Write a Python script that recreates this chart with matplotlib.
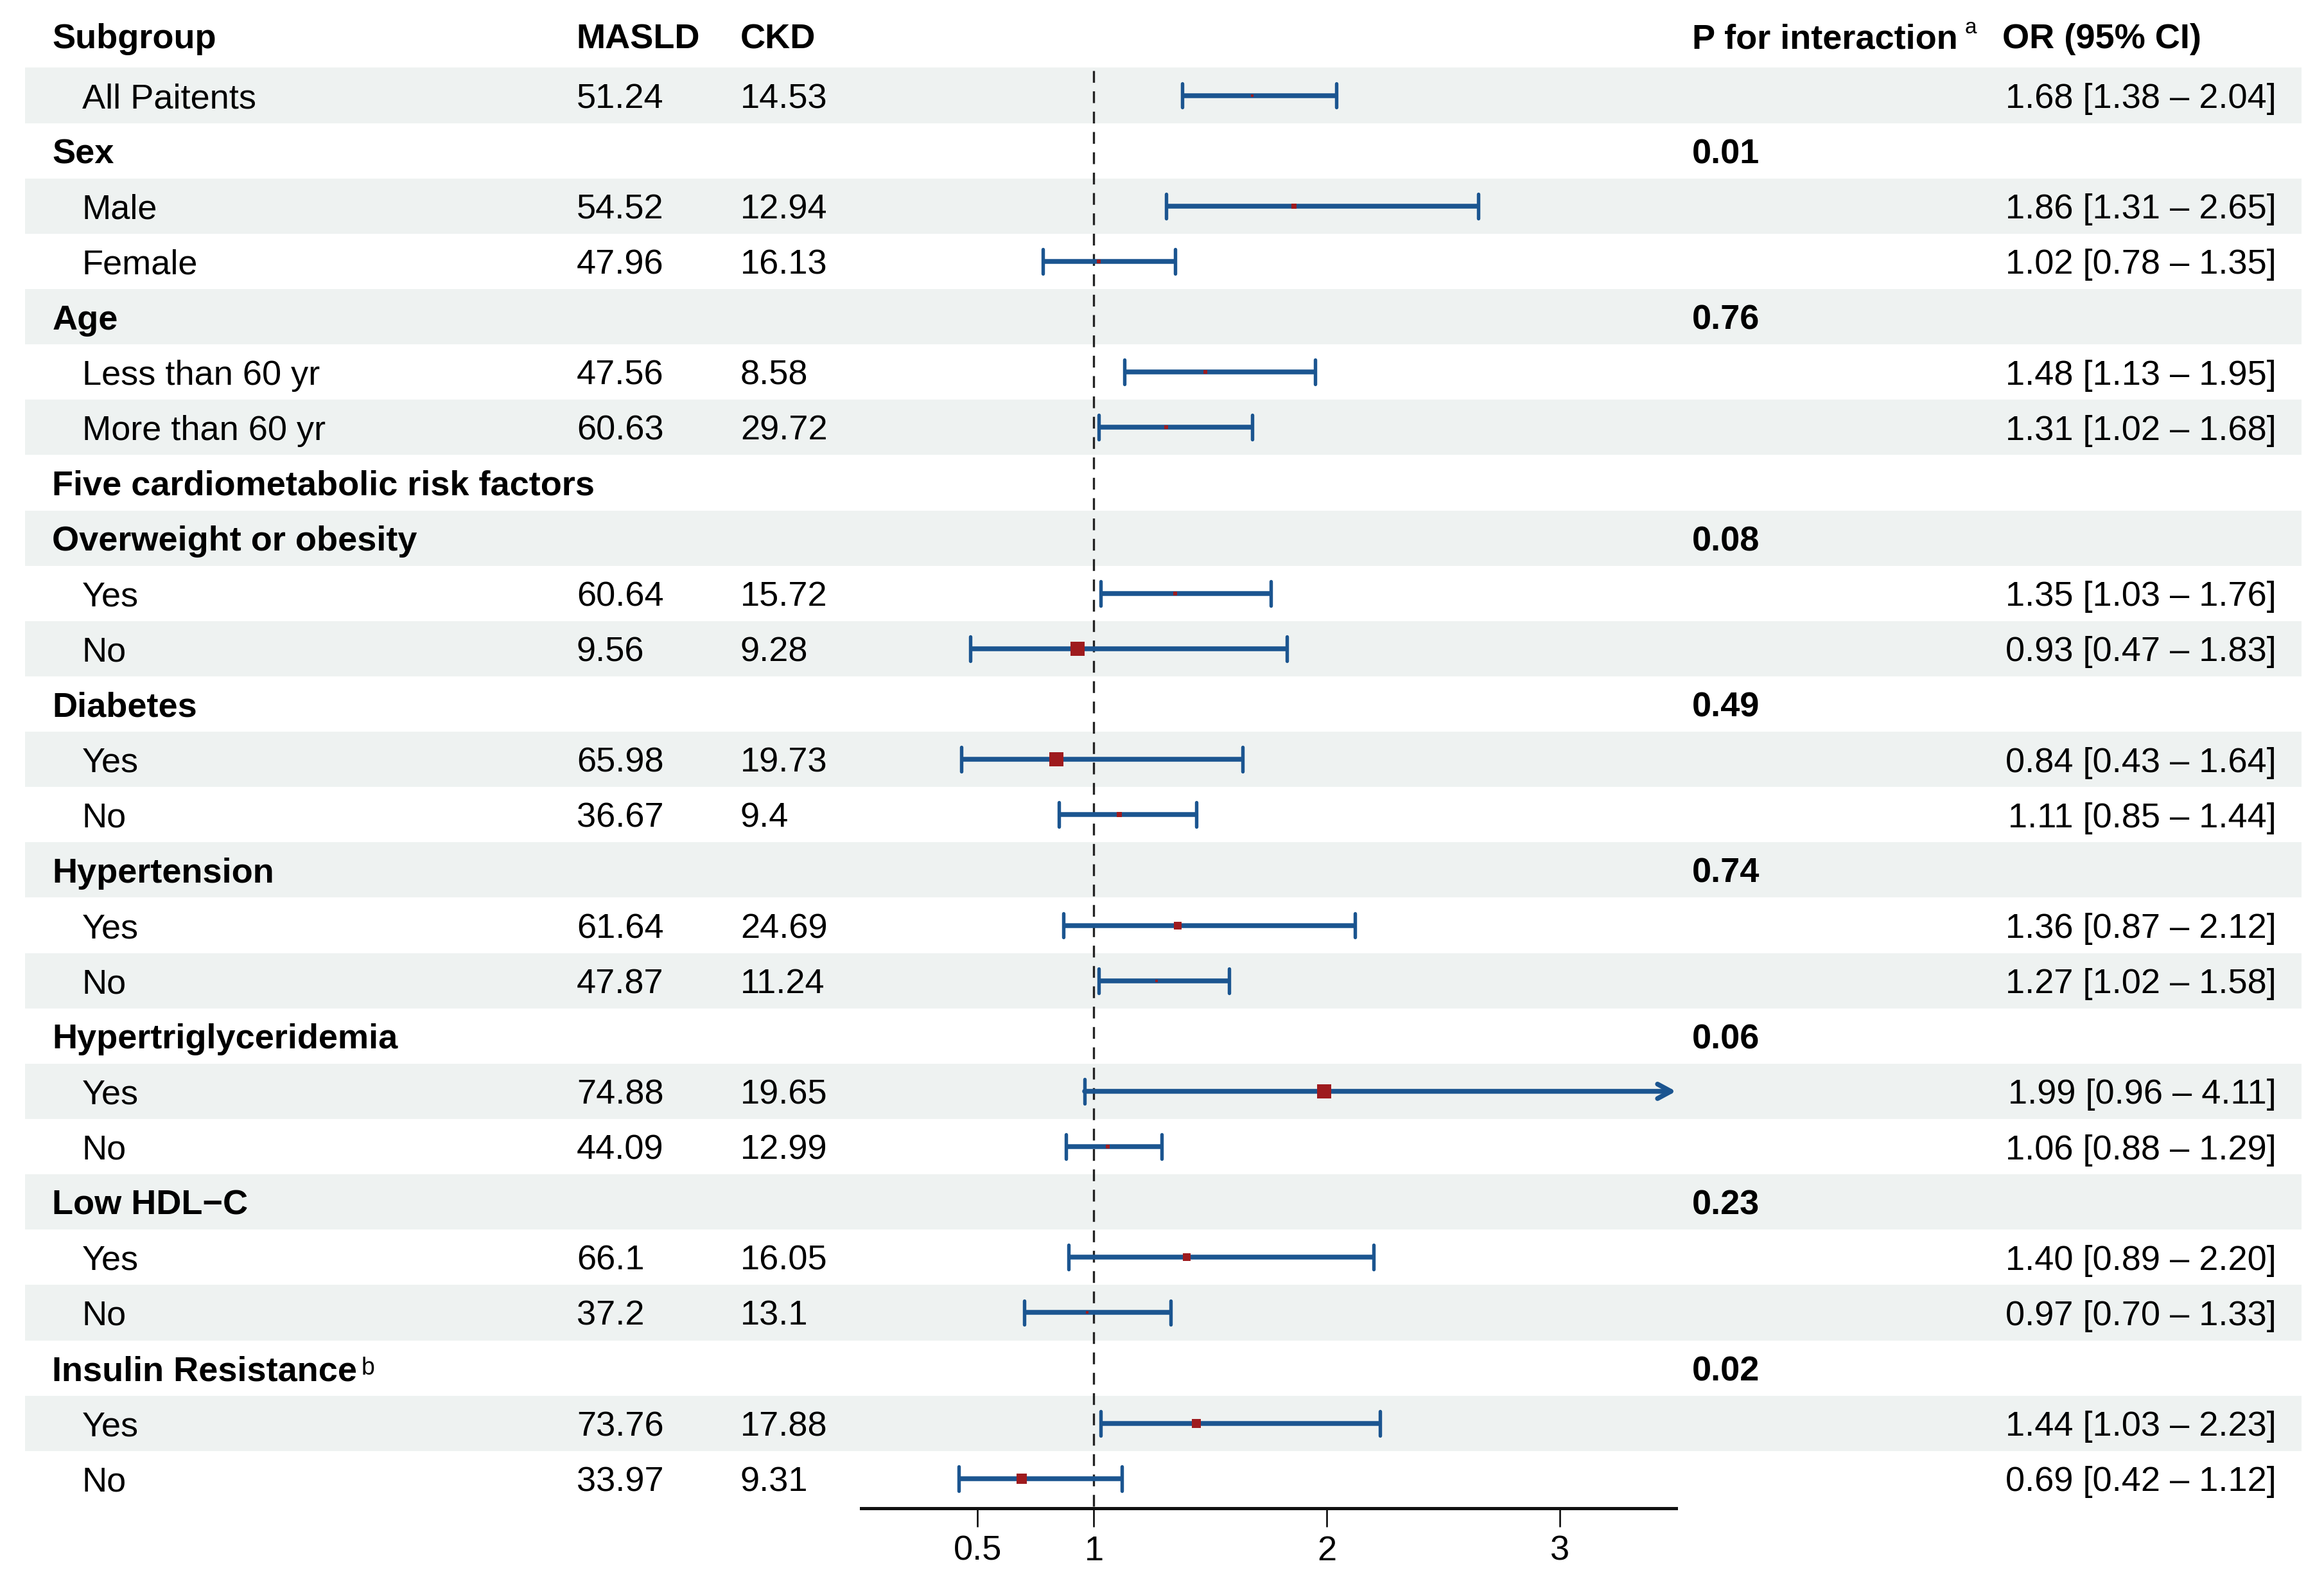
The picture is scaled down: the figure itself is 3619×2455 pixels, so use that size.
import numpy as np
import matplotlib
matplotlib.use('Agg')
import matplotlib.pyplot as plt
from matplotlib.patches import Rectangle

plt.rcParams['font.family'] = ['Liberation Sans', 'DejaVu Sans']

# ---------------- data ----------------
labels = ["All Paitents", "Sex", "Male", "Female", "Age", "Less than 60 yr", "More than 60 yr",
          "Five cardiometabolic risk factors", "Overweight or obesity", "Yes", "No",
          "Diabetes", "Yes", "No", "Hypertension", "Yes", "No",
          "Hypertriglyceridemia", "Yes", "No", "Low HDL\u2212C", "Yes", "No",
          "Insulin Resistance", "Yes", "No"]
is_group = [False, True, False, False, True, False, False, True, True, False, False,
            True, False, False, True, False, False, True, False, False, True, False, False,
            True, False, False]
masld = ["51.24", "", "54.52", "47.96", "", "47.56", "60.63", "", "", "60.64", "9.56",
         "", "65.98", "36.67", "", "61.64", "47.87", "", "74.88", "44.09", "", "66.1", "37.2",
         "", "73.76", "33.97"]
ckd = ["14.53", "", "12.94", "16.13", "", "8.58", "29.72", "", "", "15.72", "9.28",
       "", "19.73", "9.4", "", "24.69", "11.24", "", "19.65", "12.99", "", "16.05", "13.1",
       "", "17.88", "9.31"]
p_int = ["", "0.01", "", "", "0.76", "", "", "", "0.08", "", "", "0.49", "", "", "0.74",
         "", "", "0.06", "", "", "0.23", "", "", "0.02", "", ""]
nan = np.nan
or_est = [1.68, nan, 1.86, 1.02, nan, 1.48, 1.31, nan, nan, 1.35, 0.93, nan, 0.84, 1.11,
          nan, 1.36, 1.27, nan, 1.99, 1.06, nan, 1.40, 0.97, nan, 1.44, 0.69]
or_lo = [1.38, nan, 1.31, 0.78, nan, 1.13, 1.02, nan, nan, 1.03, 0.47, nan, 0.43, 0.85,
         nan, 0.87, 1.02, nan, 0.96, 0.88, nan, 0.89, 0.70, nan, 1.03, 0.42]
or_hi = [2.04, nan, 2.65, 1.35, nan, 1.95, 1.68, nan, nan, 1.76, 1.83, nan, 1.64, 1.44,
         nan, 2.12, 1.58, nan, 4.11, 1.29, nan, 2.20, 1.33, nan, 2.23, 1.12]
box_size = [1.0, 0, 1.7, 1.5, 0, 1.5, 1.6, 0, 0, 1.3, 5.3, 0, 5.5, 1.7,
            0, 2.8, 1.0, 0, 5.4, 1.5, 0, 2.8, 1.1, 0, 3.4, 4.0]
x_ticks = [0.5, 1, 2, 3]
x_max = 3.5

# ---------------- layout ----------------
W, H = 1560.0, 1058.0          # reference layout units
row0, drow = 64.0, 37.12
n = len(labels)
y_top = (0 - row0) / drow
y_bot = (H - row0) / drow

fig = plt.figure(figsize=(3619 / 300, 2455 / 300), dpi=300)
ax = fig.add_axes([0, 0, 1, 1])
ax.set_xlim(0, W)
ax.set_ylim(y_bot, y_top)
ax.axis('off')

band_color = '#EEF2F1'
for i in range(n):
    if i % 2 == 0:
        ax.add_patch(Rectangle((17, i - 0.5), 1545 - 17, 1.0, facecolor=band_color,
                               edgecolor='none', zorder=0))

fs = 13
hdr_y = (24 - row0) / drow
ax.text(35, hdr_y, "Subgroup", fontsize=fs, fontweight='bold', va='center_baseline')
ax.text(387, hdr_y, "MASLD", fontsize=fs, fontweight='bold', va='center_baseline')
ax.text(497, hdr_y, "CKD", fontsize=fs, fontweight='bold', va='center_baseline')
tp = ax.text(1136, hdr_y, "P for interaction", fontsize=fs, fontweight='bold', va='center_baseline')
ax.annotate("a", xy=(1, 0.55), xycoords=tp, xytext=(2.5, 0), textcoords='offset points',
            fontsize=8, va='bottom', ha='left')
ax.text(1344, hdr_y, "OR (95% CI)", fontsize=fs, fontweight='bold', va='center_baseline')

for i in range(n):
    if is_group[i]:
        t = ax.text(35, i, labels[i], fontsize=fs, fontweight='bold', va='center_baseline')
        if labels[i] == "Insulin Resistance":
            ax.annotate("b", xy=(1, 0.25), xycoords=t, xytext=(1.5, 0),
                        textcoords='offset points', fontsize=9, va='bottom', ha='left')
    else:
        ax.text(55, i, labels[i], fontsize=fs, va='center_baseline')
    if masld[i]:
        ax.text(387, i, masld[i], fontsize=fs, va='center_baseline')
    if ckd[i]:
        ax.text(497, i, ckd[i], fontsize=fs, va='center_baseline')
    if p_int[i]:
        ax.text(1136, i, p_int[i], fontsize=fs, fontweight='bold', va='center_baseline')
    if not np.isnan(or_est[i]):
        ax.text(1528, i, f"{or_est[i]:.2f} [{or_lo[i]:.2f} \u2013 {or_hi[i]:.2f}]",
                fontsize=fs, va='center_baseline', ha='right')

# ---------------- forest panel ----------------
axis_y = 1012.0
fx0, fx1 = 578.0, 1125.0
axf = fig.add_axes([fx0 / W, 1 - axis_y / H, (fx1 - fx0) / W, axis_y / H])
axf.patch.set_alpha(0)
axf.set_xlim(0, x_max)
axf.set_ylim((axis_y - row0) / drow, y_top)
for s in ['top', 'right', 'left']:
    axf.spines[s].set_visible(False)
axf.spines['bottom'].set_linewidth(1.2)
axf.spines['bottom'].set_color('#111111')
axf.set_yticks([])
axf.set_xticks(x_ticks)
axf.set_xticklabels([f"{v:g}" for v in x_ticks])
axf.tick_params(axis='x', direction='out', length=7, width=0.6, labelsize=fs, pad=3)

axf.plot([1, 1], [-0.45, (axis_y - row0) / drow], color='#222222', lw=0.8,
         linestyle=(0, (5.5, 4)), zorder=1)

blue = '#1B5590'
red = '#9E1B1E'
cap = 0.22
for i in range(n):
    if np.isnan(or_est[i]):
        continue
    lo, hi, est = or_lo[i], or_hi[i], or_est[i]
    if hi > x_max:
        axf.annotate('', xy=(x_max, i), xytext=(lo, i),
                     arrowprops=dict(arrowstyle='->,head_length=0.5,head_width=0.27',
                                     color=blue, lw=1.8, shrinkA=0, shrinkB=0),
                     annotation_clip=False, zorder=3)
    else:
        axf.plot([lo, hi], [i, i], color=blue, lw=1.8, zorder=3, solid_capstyle='butt')
        axf.plot([hi, hi], [i - cap, i + cap], color=blue, lw=1.3, zorder=3,
                 solid_capstyle='round')
    axf.plot([lo, lo], [i - cap, i + cap], color=blue, lw=1.3, zorder=3,
             solid_capstyle='round')
    axf.plot([est], [i], marker='s', markersize=box_size[i], color=red,
             markeredgewidth=0, linestyle='none', zorder=4)

fig.savefig('out.png', dpi=300)
